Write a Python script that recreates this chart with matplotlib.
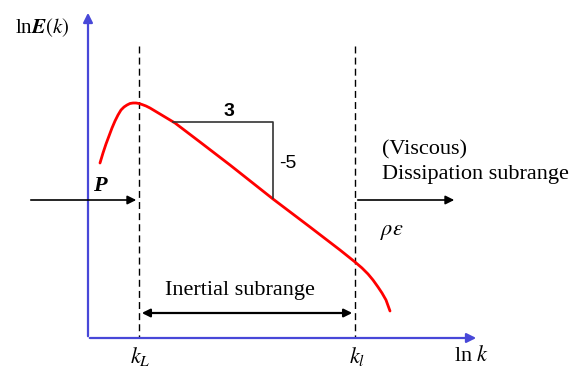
import matplotlib.pyplot as plt

plt.rcParams['font.family'] = ['Liberation Serif', 'DejaVu Serif']
plt.rcParams['mathtext.fontset'] = 'stix'

# diagram coordinates (x to the right, y downward)
spec_x = [100, 103, 106, 109, 112, 115, 118, 121, 124, 127, 130, 133, 136, 139,
          142, 146, 150, 155, 160, 165, 170, 175, 200, 230, 273, 310, 340, 355,
          362, 368, 373, 378, 382, 386, 390]
spec_y = [163, 153, 144, 136, 128, 121, 115, 110, 107, 105, 103.5, 103, 103, 103.5,
          104.5, 106, 108, 111, 114, 117, 120, 123, 142, 165, 199, 227, 250, 262,
          268, 274, 280, 287, 293, 300, 311]

k_L = 139
k_l = 355
axis_x0, axis_y0 = 88, 338

# slope triangle (-5/3)
tri_x = [173, 273, 273]
tri_y = [122, 122, 198]

fig = plt.figure(figsize=(5.73, 3.72), dpi=100)
ax = fig.add_axes([0, 0, 1, 1])
ax.set_xlim(0, 573)
ax.set_ylim(372, 0)
ax.axis('off')

blue = '#4848d8'
ax.annotate('', xy=(axis_x0, 10), xytext=(axis_x0, axis_y0 + 1),
            arrowprops=dict(arrowstyle='-|>', color=blue, lw=1.6, mutation_scale=14))
ax.annotate('', xy=(479, axis_y0), xytext=(axis_x0 - 1, axis_y0),
            arrowprops=dict(arrowstyle='-|>', color=blue, lw=1.6, mutation_scale=14))

for xv in (k_L, k_l):
    ax.plot([xv, xv], [46, axis_y0], color='black', lw=1, ls=(0, (5, 3)))

ax.plot(spec_x, spec_y, color='red', lw=2, solid_capstyle='round', solid_joinstyle='round')
ax.plot(tri_x, tri_y, color='#333333', lw=1.2)

# energy input and dissipation arrows
arrow = dict(arrowstyle='-|>', color='black', lw=1.2, mutation_scale=13)
ax.annotate('', xy=(139, 200), xytext=(28, 200), arrowprops=arrow)
ax.annotate('', xy=(457, 200), xytext=(k_l, 200), arrowprops=arrow)
ax.annotate('', xy=(k_l, 313), xytext=(k_L, 313),
            arrowprops=dict(arrowstyle='<|-|>', color='black', lw=1.6, mutation_scale=12))

fs = 16
ax.text(42, 28, r'ln$\boldsymbol{E}\mathit{(k)}$', fontsize=fs - 1, ha='center', va='center')
ax.text(229, 111, '3', fontsize=fs - 2, ha='center', va='center', fontweight='bold',
        family=['Liberation Sans'])
ax.text(279, 163, '-5', fontsize=fs - 2, ha='left', va='center', family=['Liberation Sans'])
ax.text(100, 186, 'P', fontsize=fs, ha='center', va='center', style='italic', fontweight='bold')
ax.text(382, 150, '(Viscous)', fontsize=fs, ha='left', va='center')
ax.text(382, 175, 'Dissipation subrange', fontsize=fs, ha='left', va='center')
ax.text(380, 232, r'$\rho\varepsilon$', fontsize=fs, ha='left', va='center')
ax.text(240, 291, 'Inertial subrange', fontsize=fs, ha='center', va='center')
ax.text(140, 356, r'$k_L$', fontsize=fs, ha='center', va='center')
ax.text(357, 356, r'$k_l$', fontsize=fs, ha='center', va='center')
ax.text(472, 356, r'ln $k$', fontsize=fs, ha='center', va='center')

fig.savefig('out.png', dpi=100)
